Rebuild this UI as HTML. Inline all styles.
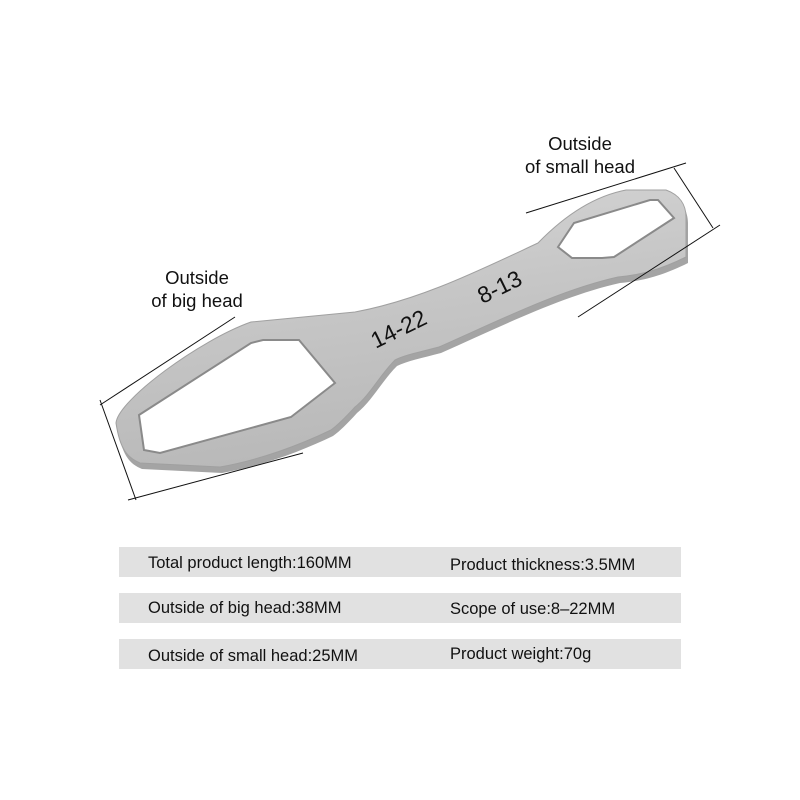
<!DOCTYPE html>
<html><head><style>
body{margin:0;width:800px;height:800px;background:#fff;overflow:hidden;font-family:"Liberation Sans",sans-serif}
</style></head><body>
<svg width="800" height="800" viewBox="0 0 800 800" xmlns="http://www.w3.org/2000/svg" style="position:absolute;left:0;top:0">
<defs>
<linearGradient id="g" x1="0" y1="0" x2="0.3" y2="1">
<stop offset="0" stop-color="#d8d8d8"/><stop offset="0.5" stop-color="#c6c6c6"/><stop offset="1" stop-color="#b8b8b8"/>
</linearGradient>
<path id="w" d="M116,423 C118,400 200,340 251,322 L355,312 C420,300 480,270 538,243 C570,210 600,195 626,190 L666,190 C680,195 686,205 686,217 L686,257 C660,270 640,275 618,277 C560,290 500,320 439,347 C420,352 405,355 395,360 C380,375 370,395 355,407 C345,418 338,425 331,430 C300,445 260,460 220,467 L140,463 C128,458 120,450 116,423 Z"/>
</defs>
<use href="#w" transform="translate(2,6)" fill="#a4a4a4"/>
<use href="#w" fill="url(#g)" stroke="#a0a0a0" stroke-width="1"/>
<path d="M139,415 L251,343 L263,340 L299,340 L335,383 L291,417 L160,453 L144,450 Z" fill="#fff" stroke="#8a8a8a" stroke-width="2"/>
<path d="M558,247 L574,223 L650,200 L658,200 L674,218 L614,257 L602,258 L572,258 Z" fill="#fff" stroke="#8a8a8a" stroke-width="2"/>
<g stroke="#111" stroke-width="1">
<line x1="526" y1="213" x2="686" y2="163"/>
<line x1="674" y1="168" x2="713" y2="228"/>
<line x1="578" y1="317" x2="720" y2="225"/>
<line x1="100" y1="405" x2="235" y2="317"/>
<line x1="100" y1="400" x2="136" y2="500"/>
<line x1="128" y1="500" x2="303" y2="453"/>
</g>
<g font-size="18.5" fill="#111" text-anchor="middle" font-family="Liberation Sans,sans-serif">
<text x="580" y="150">Outside</text><text x="580" y="173">of small head</text>
<text x="197" y="284">Outside</text><text x="197" y="307">of big head</text>
</g>
<g font-size="23" fill="#111" font-family="Liberation Sans,sans-serif" text-anchor="middle">
<text transform="translate(402,336) rotate(-26)">14-22</text>
<text transform="translate(503,294) rotate(-26)">8-13</text>
</g>
<g fill="#e1e1e1">
<rect x="119" y="547" width="562" height="30"/>
<rect x="119" y="593" width="562" height="30"/>
<rect x="119" y="639" width="562" height="30"/>
</g>
<g font-size="16.5" fill="#111" font-family="Liberation Sans,sans-serif">
<text x="148" y="568">Total product length:160MM</text>
<text x="450" y="570">Product thickness:3.5MM</text>
<text x="148" y="613">Outside of big head:38MM</text>
<text x="450" y="614">Scope of use:8–22MM</text>
<text x="148" y="661">Outside of small head:25MM</text>
<text x="450" y="659">Product weight:70g</text>
</g>
</svg>
</body></html>
